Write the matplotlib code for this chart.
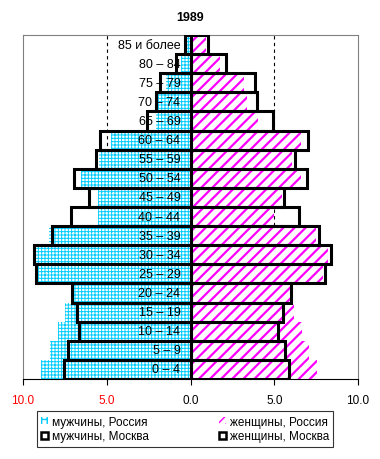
import matplotlib
matplotlib.use("Agg")
import matplotlib.pyplot as plt
from matplotlib.patches import Patch

plt.rcParams['font.family'] = ['Liberation Sans', 'DejaVu Sans']

# Возрастные группы (снизу вверх)
ages = ['0 – 4', '5 – 9', '10 – 14', '15 – 19', '20 – 24', '25 – 29', '30 – 34',
        '35 – 39', '40 – 44', '45 – 49', '50 – 54', '55 – 59', '60 – 64',
        '65 – 69', '70 – 74', '75 – 79', '80 – 84', '85 и более']

# Доли в %, 1989
men_russia = [8.9, 8.4, 7.9, 7.5, 7.15, 9.3, 9.4, 8.45, 5.55, 5.5, 6.55, 5.45,
              4.75, 2.05, 1.95, 1.45, 0.55, 0.25]
women_russia = [7.55, 7.1, 6.65, 6.2, 6.1, 7.9, 8.2, 7.5, 5.0, 5.45, 6.6, 6.05,
                6.6, 4.0, 3.4, 3.2, 1.75, 0.9]
men_moscow = [7.55, 7.3, 6.65, 6.8, 7.1, 9.2, 9.35, 8.25, 7.15, 6.05, 6.95, 5.65,
              5.4, 2.6, 2.05, 1.8, 0.85, 0.35]
women_moscow = [5.9, 5.65, 5.2, 5.55, 6.0, 8.0, 8.4, 7.7, 6.5, 5.6, 6.95, 6.25,
                7.0, 4.9, 3.95, 3.85, 2.1, 1.05]

ticks = [-10, -5, 0, 5, 10]
tick_labels = ['10.0', '5.0', '0.0', '5.0', '10.0']

cyan = '#00CCFF'
magenta = '#FF00FF'

fig = plt.figure(figsize=(3.8, 4.6), dpi=100)
ax = fig.add_axes([23 / 380, 80 / 460, 335 / 380, 344 / 460])

y = list(range(len(ages)))

# пунктирные линии
for xv in (-5, 5):
    ax.axvline(xv, color='black', linestyle=(0, (3, 3)), linewidth=0.8, zorder=1)

# Россия
with plt.rc_context({'hatch.linewidth': 0.7}):
    ax.barh(y, [-v for v in men_russia], height=1.0, color='white', edgecolor=cyan,
            hatch='+++++', linewidth=0, zorder=2)
with plt.rc_context({'hatch.linewidth': 1.6}):
    ax.barh(y, women_russia, height=1.0, color='white', edgecolor=magenta,
            hatch='///', linewidth=0, zorder=2)

# Москва
ax.barh(y, [-v for v in men_moscow], height=1.0, color='none', edgecolor='black',
        linewidth=2.2, zorder=3)
ax.barh(y, women_moscow, height=1.0, color='none', edgecolor='black',
        linewidth=2.2, zorder=3)

for yi, lab in zip(y, ages):
    ax.text(-0.6, yi, lab, ha='right', va='center', fontsize=9, zorder=4)

ax.set_xlim(-10, 10)
ax.set_ylim(-0.5, len(ages) - 0.5)
ax.set_yticks([])
ax.set_xticks(ticks)
ax.set_xticklabels(tick_labels, fontsize=8.5)
for lbl in ax.get_xticklabels()[:2]:
    lbl.set_color('red')
ax.tick_params(axis='x', direction='out', length=4, width=0.8, pad=7)

for side in ('left', 'top', 'right'):
    ax.spines[side].set_color('#808080')
    ax.spines[side].set_linewidth(0.8)
ax.spines['bottom'].set_color('black')
ax.spines['bottom'].set_linewidth(0.8)

ax.set_title('1989', fontsize=9, fontweight='bold', pad=11)

with plt.rc_context({'hatch.linewidth': 1.4}):
    handles = [
        Patch(facecolor='white', edgecolor=cyan, hatch='+++', linewidth=0,
              label='мужчины, Россия'),
        Patch(facecolor='white', edgecolor='black', linewidth=1.8,
              label='мужчины, Москва'),
        Patch(facecolor='white', edgecolor=magenta, hatch='////', linewidth=0,
              label='женщины, Россия'),
        Patch(facecolor='white', edgecolor='black', linewidth=1.8,
              label='женщины, Москва'),
    ]
leg = fig.legend(handles=handles, ncol=2, loc='center',
                 bbox_to_anchor=(185 / 380, 1 - 430 / 460),
                 fontsize=8.5, frameon=True, fancybox=False, edgecolor='black',
                 handlelength=0.6, handleheight=0.6, handletextpad=0.3,
                 columnspacing=6.0, borderpad=0.35, labelspacing=0.25,
                 borderaxespad=0)
leg.get_frame().set_linewidth(0.8)

fig.savefig('out.png', dpi=100)
